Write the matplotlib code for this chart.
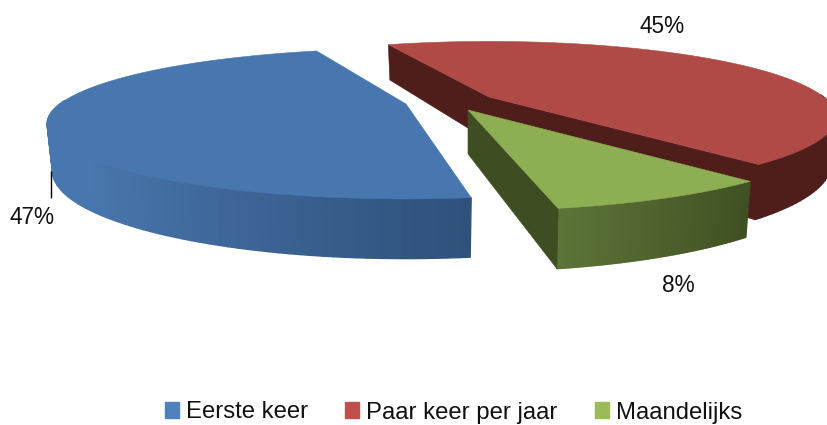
import numpy as np
import matplotlib
matplotlib.use("Agg")
import matplotlib.pyplot as plt
from matplotlib.patches import Polygon, Patch
from matplotlib.colors import to_rgb

# data
categories = ["Eerste keer", "Paar keer per jaar", "Maandelijks"]
percent = [47, 45, 8]
percent_labels = ["47%", "45%", "8%"]

# style
legend_colors = ["#4f81bd", "#c0504d", "#9bbb59"]
face_colors = ["#4876ae", "#b04a47", "#8dae52"]
wall_colors = ["#2f5079", "#4f1e1b", "#3f4e22"]
rim_from = ["#4876ae", "#4f1e1b", "#5c7438"]
rim_to = ["#2f5079", "#4f1e1b", "#3f4f22"]
rim_u = [(-0.75, 0.16), (0, 1), (0.19, 0.65)]
pivots = [(406, 104), (489, 97), (468, 110)]
start_deg = [172.0, 338.0, 140.3]
radius = [0.985, 0.99, 1.03]
x_stretch = [1.04, 1.0, 1.0]
walls_shown = [(), ("first", "last"), ("last",)]
label_pos = [(32, 217), (662, 26), (678, 285)]
A, B, K, DEPTH, SHRINK = 338.0, 71.0, 0.267, 44.0, 0.985

plt.rcParams["font.family"] = ["Liberation Sans"]
fig = plt.figure(figsize=(8.27, 4.25), dpi=100)
ax = fig.add_axes([0, 0, 1, 1])
ax.set_xlim(0, 827)
ax.set_ylim(425, 0)
ax.axis("off")


def top(c, th, r, xs):
    u, v = r * np.sin(th), r * np.cos(th)
    s = 1 / (1 + K * v)
    return c[0] + A * xs * u * s, c[1] - B * v * s


def bottom(c, th, r, xs):
    u, v = r * np.sin(th), r * np.cos(th)
    s = 1 / (1 + K * v)
    return c[0] + A * xs * u * s * SHRINK, c[1] - B * v * s + DEPTH * s


def mix(a, b, t):
    t = np.clip(t, 0, 1)
    a, b = np.array(to_rgb(a)), np.array(to_rgb(b))
    return tuple(a + (b - a) * t)


order = [1, 2, 0]
spans = np.array(percent) / sum(percent) * 2 * np.pi

for i in order:
    c, r, xs = pivots[i], radius[i], x_stretch[i]
    st = np.radians(start_deg[i])
    th = np.linspace(st, st + spans[i], 120)
    tx, ty = top(c, th, r, xs)
    # outer rim, front part only
    bxs, bys = bottom(c, th, r, xs)
    for j in range(len(th) - 1):
        if np.cos(th[j]) > 0.05:
            continue
        t = (np.sin(th[j]) - rim_u[i][0]) / (rim_u[i][1] - rim_u[i][0])
        col = mix(rim_from[i], rim_to[i], t)
        ax.add_patch(Polygon([(tx[j], ty[j]), (tx[j + 1], ty[j + 1]),
                              (bxs[j + 1], bys[j + 1]), (bxs[j], bys[j])],
                             fc=col, ec=col, lw=1.0))
    # visible radial walls
    for w in walls_shown[i]:
        e = th[0] if (w == "first") == (i != 2) else th[-1]
        if i == 2:
            e = th[-1]
        ex, ey = top(c, e, r, xs)
        bx, by = bottom(c, e, r, xs)
        qx, qy = bottom(c, e, 0.0, xs)
        ax.add_patch(Polygon([c, (ex, ey), (bx, by), (qx, qy)],
                             fc=wall_colors[i], ec=wall_colors[i], lw=0.4))
    # top face
    ax.add_patch(Polygon([c] + list(zip(tx, ty)), fc=face_colors[i],
                         ec=face_colors[i], lw=0.4))

# leader line
ax.plot([51, 51], [171, 198], color="black", lw=1.0, solid_capstyle="butt")

for txt, (x, y) in zip(percent_labels, label_pos):
    ax.text(x, y, txt, ha="center", va="center", fontsize=16.3, color="#111111")

handles = [Patch(fc=c, ec=c) for c in legend_colors]
ax.legend(handles, categories, loc="center", bbox_to_anchor=(453.5 / 827, 1 - 412.5 / 425),
          ncol=3, frameon=False, fontsize=17.2, handlelength=0.6, handleheight=0.6,
          handletextpad=0.29, columnspacing=1.55, borderpad=0, labelcolor="#111111")

fig.savefig("out.png", dpi=100)
